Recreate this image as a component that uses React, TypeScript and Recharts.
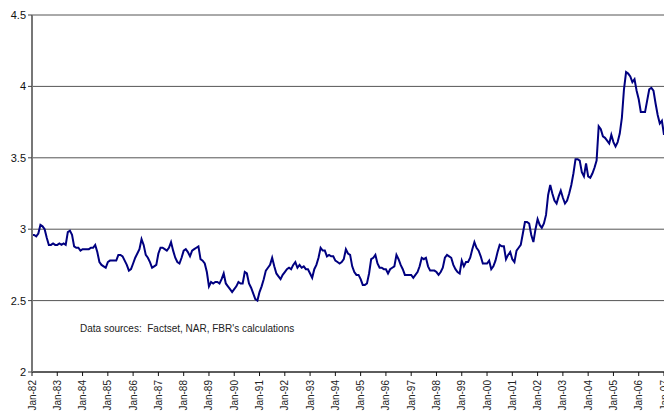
import { LineChart, Line, XAxis, YAxis, CartesianGrid } from 'recharts';

// monthly values, Jan-82 .. Jan-07 (one row per year)
const ratio = [
    2.96, 2.96, 2.95, 2.97, 3.03, 3.02, 3.0, 2.94, 2.89, 2.89, 2.9, 2.89,
    2.89, 2.9, 2.89, 2.9, 2.89, 2.98, 2.99, 2.96, 2.88, 2.87, 2.87, 2.85,
    2.86, 2.86, 2.86, 2.86, 2.87, 2.87, 2.89, 2.84, 2.77, 2.75, 2.74, 2.73,
    2.77, 2.78, 2.78, 2.78, 2.78, 2.82, 2.82, 2.81, 2.78, 2.75, 2.71, 2.72,
    2.76, 2.8, 2.83, 2.86, 2.93, 2.89, 2.82, 2.8, 2.77, 2.73, 2.74, 2.75,
    2.83, 2.87, 2.87, 2.86, 2.85, 2.87, 2.91, 2.85, 2.8, 2.77, 2.76, 2.8,
    2.85, 2.86, 2.84, 2.81, 2.85, 2.86, 2.87, 2.88, 2.79, 2.78, 2.76, 2.7,
    2.6, 2.63, 2.62, 2.63, 2.63, 2.62, 2.65, 2.69, 2.62, 2.6, 2.58, 2.56,
    2.58, 2.6, 2.63, 2.62, 2.62, 2.7, 2.69, 2.62, 2.59, 2.55, 2.51, 2.5,
    2.56, 2.6, 2.65, 2.71, 2.73, 2.75, 2.8, 2.74, 2.69, 2.67, 2.65, 2.68,
    2.7, 2.72, 2.73, 2.72, 2.75, 2.77, 2.73, 2.75, 2.73, 2.74, 2.72, 2.72,
    2.69, 2.66, 2.72, 2.75, 2.8, 2.87, 2.85, 2.85, 2.81, 2.82, 2.81, 2.81,
    2.78, 2.77, 2.76, 2.77, 2.79, 2.86, 2.83, 2.82, 2.74, 2.7, 2.68, 2.68,
    2.65, 2.61, 2.61, 2.62, 2.69, 2.79, 2.8, 2.82, 2.76, 2.73, 2.73, 2.72,
    2.72, 2.69, 2.72, 2.73, 2.74, 2.82, 2.79, 2.75, 2.72, 2.68, 2.68, 2.68,
    2.68, 2.66, 2.68, 2.7, 2.74, 2.8, 2.79, 2.8, 2.74, 2.71, 2.71, 2.71,
    2.7, 2.68, 2.7, 2.73, 2.8, 2.82, 2.81, 2.8, 2.75, 2.72, 2.7, 2.69,
    2.78, 2.74, 2.77, 2.77, 2.8, 2.86, 2.91, 2.87, 2.85, 2.81, 2.76, 2.76,
    2.76, 2.78, 2.72, 2.74, 2.78, 2.84, 2.89, 2.88, 2.88, 2.79, 2.82, 2.84,
    2.79, 2.77, 2.85, 2.87, 2.89, 2.97, 3.05, 3.05, 3.04, 2.96, 2.91, 3.0,
    3.07, 3.03, 3.01, 3.04, 3.1, 3.24, 3.31, 3.25, 3.2, 3.18, 3.23, 3.27,
    3.22, 3.18, 3.2, 3.25, 3.31, 3.39, 3.49, 3.49, 3.48, 3.4, 3.37, 3.46,
    3.37, 3.36, 3.39, 3.43, 3.48, 3.72, 3.7, 3.65, 3.64, 3.62, 3.6, 3.66,
    3.61, 3.58, 3.61, 3.67, 3.78, 3.98, 4.1, 4.09, 4.07, 4.03, 4.05, 3.97,
    3.91, 3.82, 3.82, 3.82, 3.9, 3.98, 3.99, 3.97, 3.88, 3.8, 3.74, 3.76,
    3.66,
];

const monthNames = ['Jan', 'Feb', 'Mar', 'Apr', 'May', 'Jun', 'Jul', 'Aug', 'Sep', 'Oct', 'Nov', 'Dec'];
const firstYear = 1982;
const yTicks = [2, 2.5, 3, 3.5, 4, 4.5];
const sourceNote = "Data sources:  Factset, NAR, FBR's calculations";

const data = ratio.map((v, i) => {
    const yr = (firstYear + Math.floor(i / 12)) % 100;
    return {
        month: `${monthNames[i % 12]}-${String(yr).padStart(2, '0')}`,
        value: v,
    };
});

const FONT = '"Liberation Sans", Arial, sans-serif';

function MonthTick({ x, y, payload }: any) {
    return (
        <text
            transform={`translate(${x},${y + 2}) rotate(-90)`}
            textAnchor="end"
            dy="0.35em"
            fontSize={10}
            fontFamily={FONT}
            fill="#222"
        >
            {payload.value}
        </text>
    );
}

export default function App() {
    return (
        <div style={{ position: 'absolute', left: 0, top: 0, width: 664, height: 411, overflow: 'hidden', background: '#fff' }}>
            <LineChart width={700} height={411} data={data} margin={{ top: 15, right: 36, bottom: 0, left: 0 }}>
                <CartesianGrid vertical={false} stroke="#555" strokeWidth={1} />
                <XAxis
                    dataKey="month"
                    interval={11}
                    height={39}
                    tick={<MonthTick />}
                    tickSize={4}
                    stroke="#111"
                    axisLine={{ stroke: '#111' }}
                    tickLine={{ stroke: '#111' }}
                />
                <YAxis
                    domain={[2, 4.5]}
                    ticks={yTicks}
                    width={32}
                    tickSize={4}
                    tickMargin={2}
                    interval={0}
                    axisLine={{ stroke: '#777', strokeWidth: 2 }}
                    tickLine={{ stroke: '#444' }}
                    tick={{ fontSize: 11, fontFamily: FONT, fill: '#111' }}
                />
                <Line
                    type="linear"
                    dataKey="value"
                    stroke="#000080"
                    strokeWidth={2}
                    dot={false}
                    isAnimationActive={false}
                />
            </LineChart>
            <div style={{ position: 'absolute', left: 80, top: 323, fontSize: 10, fontFamily: FONT, color: '#222', whiteSpace: 'pre' }}>
                {sourceNote}
            </div>
        </div>
    );
}
